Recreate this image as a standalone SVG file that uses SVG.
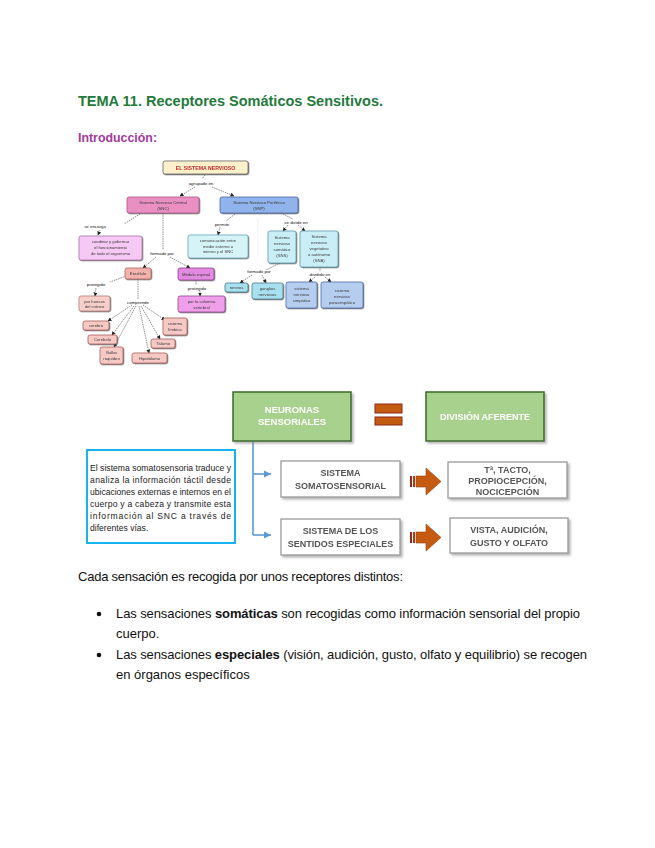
<svg xmlns="http://www.w3.org/2000/svg" width="655" height="848" viewBox="0 0 655 848">
<defs>
<style>
.t{font-family:"Liberation Sans",Arial,sans-serif;}
.m{font-family:"Liberation Sans",Arial,sans-serif;font-size:4.2px;fill:#3a3a3a;text-anchor:middle;}
.lb{font-family:"Liberation Sans",Arial,sans-serif;font-size:4.4px;fill:#111;text-anchor:middle;}
.n{stroke-width:0.7;}
.dl{stroke:#222;stroke-width:0.5;stroke-dasharray:1.5 0.8;fill:none;}
.bx{font-family:"Liberation Sans",Arial,sans-serif;font-size:9px;font-weight:bold;fill:#555;text-anchor:middle;}
.body{font-family:"Liberation Sans",Arial,sans-serif;font-size:13px;fill:#111;}
</style>
<filter id="sh" x="-10%" y="-10%" width="130%" height="140%"><feDropShadow dx="0.8" dy="0.8" stdDeviation="0.3" flood-color="#555" flood-opacity="0.8"/></filter>
<filter id="sh2" x="-10%" y="-10%" width="130%" height="140%"><feDropShadow dx="2" dy="2" stdDeviation="1.2" flood-color="#888" flood-opacity="0.6"/></filter>
<marker id="ah" markerWidth="4" markerHeight="4" refX="3.5" refY="2" orient="auto" markerUnits="userSpaceOnUse"><path d="M0,0 L4,2 L0,4 z" fill="#222"/></marker>
<marker id="ab" markerWidth="8" markerHeight="8" refX="7" refY="4" orient="auto" markerUnits="userSpaceOnUse"><path d="M0,0.5 L7,4 L0,7.5 z" fill="#5b9bd5"/></marker>
</defs>
<rect width="655" height="848" fill="#fff"/>

<g id="heading">
<text class="t" x="78" y="106" font-size="15.5" font-weight="bold" fill="#237a3b" textLength="305" lengthAdjust="spacingAndGlyphs">TEMA 11. Receptores Somáticos Sensitivos.</text>
<text class="t" x="78" y="142" font-size="13" font-weight="bold" fill="#a23a9e" textLength="79" lengthAdjust="spacingAndGlyphs">Introducción:</text>
</g>

<g id="map-connectors">
<path class="dl" d="M205,175 L202,179"/>
<path class="dl" d="M195,187 L180,196" marker-end="url(#ah)"/>
<path class="dl" d="M212,187 L234,196" marker-end="url(#ah)"/>
<path class="dl" d="M140,214 L124,224"/>
<path class="dl" d="M100,230 L98,235" marker-end="url(#ah)"/>
<path class="dl" d="M235,214 L226,221"/>
<path class="dl" d="M220,227 L218,235" marker-end="url(#ah)"/>
<path class="dl" d="M281,213 L293,219"/>
<path class="dl" d="M288,225 L283,231" marker-end="url(#ah)"/>
<path class="dl" d="M298,225 L305,231" marker-end="url(#ah)"/>
<path class="dl" d="M163,213 L163,250"/>
<path class="dl" d="M156,257 L143,268" marker-end="url(#ah)"/>
<path class="dl" d="M170,257 L190,268" marker-end="url(#ah)"/>
<path class="dl" d="M126,276 L110,282"/>
<path class="dl" d="M96,288 L95,296" marker-end="url(#ah)"/>
<path class="dl" d="M196,280 L196,285"/>
<path class="dl" d="M200,291 L200,296" marker-end="url(#ah)"/>
<path class="dl" d="M138,279 L138,299"/>
<path class="dl" d="M132,305 L108,321" marker-end="url(#ah)"/>
<path class="dl" d="M134,306 L112,335" marker-end="url(#ah)"/>
<path class="dl" d="M136,306 L114,347" marker-end="url(#ah)"/>
<path class="dl" d="M139,306 L149,353" marker-end="url(#ah)"/>
<path class="dl" d="M141,306 L160,339" marker-end="url(#ah)"/>
<path class="dl" d="M143,305 L165,320" marker-end="url(#ah)"/>
<path class="dl" d="M280,263 L266,270"/>
<path class="dl" d="M252,275 L240,283" marker-end="url(#ah)"/>
<path class="dl" d="M262,275 L266,283" marker-end="url(#ah)"/>
<path class="dl" d="M320,267 L320,271"/>
<path class="dl" d="M315,277 L309,282" marker-end="url(#ah)"/>
<path class="dl" d="M325,277 L331,282" marker-end="url(#ah)"/>
<path d="M258,218 L258,256" stroke="#e4e4e4" stroke-width="0.6"/>
</g>

<g id="map-labels">
<text class="lb" x="201" y="185">agrupado en</text>
<text class="lb" x="95" y="228">se encarga</text>
<text class="lb" x="222" y="226">permite</text>
<text class="lb" x="296" y="224">se divide en</text>
<text class="lb" x="162" y="255">formado por</text>
<text class="lb" x="96" y="286">protegido</text>
<text class="lb" x="197" y="290">protegido</text>
<text class="lb" x="138" y="304">comprende</text>
<text class="lb" x="259" y="273">formado por</text>
<text class="lb" x="320" y="276">dividido en</text>
</g>

<g id="n-sistema" filter="url(#sh)">
<rect x="163" y="161" width="85" height="13" rx="2" fill="#fdf1cc" stroke="#555" class="n"/>
<text class="t" x="205.5" y="169.6" font-size="5.2" font-weight="bold" fill="#c0282d" text-anchor="middle">EL SISTEMA NERVIOSO</text>
</g>
<g id="n-snc" filter="url(#sh)">
<rect x="127" y="197" width="72" height="16" rx="2" fill="#e98fc2" stroke="#a84f82" class="n"/>
<text class="m" x="163" y="204">Sistema Nervioso Central</text><text class="m" x="163" y="209.5">(SNC)</text>
</g>
<g id="n-snp" filter="url(#sh)">
<rect x="220" y="197" width="78" height="16" rx="2" fill="#8fb3ea" stroke="#3c5f9e" class="n"/>
<text class="m" x="259" y="204">Sistema Nervioso Periférico</text><text class="m" x="259" y="209.5">(SNP)</text>
</g>
<g id="n-coordinar" filter="url(#sh)">
<rect x="79" y="236" width="63" height="24" rx="2" fill="#f6c8f4" stroke="#a06aa0" class="n"/>
<text class="m" x="110.5" y="243">coodinar y gobernar</text><text class="m" x="110.5" y="249">el funcionamiento</text><text class="m" x="110.5" y="255">de todo el organismo</text>
</g>
<g id="n-comunicacion" filter="url(#sh)">
<rect x="188" y="235" width="60" height="23" rx="2" fill="#d6f4f8" stroke="#5a9fb0" class="n"/>
<text class="m" x="218" y="242">comunicación entre</text><text class="m" x="218" y="247.5">medio esterno o</text><text class="m" x="218" y="253">interno y el SNC</text>
</g>
<g id="n-sns" filter="url(#sh)">
<rect x="268" y="231" width="28" height="32" rx="2" fill="#c9eef5" stroke="#4a8fa0" class="n"/>
<text class="m" x="282" y="239">Sistema</text><text class="m" x="282" y="245">nervioso</text><text class="m" x="282" y="251">somático</text><text class="m" x="282" y="257">(SNS)</text>
</g>
<g id="n-sna" filter="url(#sh)">
<rect x="300" y="231" width="38" height="36" rx="2" fill="#c9eef5" stroke="#4a8fa0" class="n"/>
<text class="m" x="319" y="238">Sistema</text><text class="m" x="319" y="244">nervioso</text><text class="m" x="319" y="250">vegetativo</text><text class="m" x="319" y="256">o autónomo</text><text class="m" x="319" y="262">(SNA)</text>
</g>
<g id="n-encefalo" filter="url(#sh)">
<rect x="125" y="268" width="26" height="11" rx="2" fill="#f2b3ad" stroke="#b05c5c" class="n"/>
<text class="m" x="138" y="275">Encéfalo</text>
</g>
<g id="n-medula" filter="url(#sh)">
<rect x="178" y="268" width="36" height="12" rx="2" fill="#e38be0" stroke="#8a3a8a" class="n"/>
<text class="m" x="196" y="275.5">Médula espinal</text>
</g>
<g id="n-craneo" filter="url(#sh)">
<rect x="79" y="296" width="31" height="15" rx="2" fill="#f6cfcb" stroke="#b07070" class="n"/>
<text class="m" x="94.5" y="302.5">por huesos</text><text class="m" x="94.5" y="308">del cráneo</text>
</g>
<g id="n-columna" filter="url(#sh)">
<rect x="178" y="296" width="47" height="16" rx="2" fill="#ef9fe9" stroke="#8a3a8a" class="n"/>
<text class="m" x="201.5" y="303">por la columna</text><text class="m" x="201.5" y="308.5">vertebral</text>
</g>
<g id="n-cerebro" filter="url(#sh)">
<rect x="83" y="321" width="26" height="9" rx="2" fill="#f6c9c5" stroke="#a05050" class="n"/>
<text class="m" x="96" y="327">cerebro</text>
</g>
<g id="n-cerebelo" filter="url(#sh)">
<rect x="88" y="335" width="29" height="9" rx="2" fill="#f6c9c5" stroke="#a05050" class="n"/>
<text class="m" x="102.5" y="341">Cerebelo</text>
</g>
<g id="n-bulbo" filter="url(#sh)">
<rect x="100" y="347" width="23" height="17" rx="2" fill="#f6c9c5" stroke="#a05050" class="n"/>
<text class="m" x="111.5" y="354">Bulbo</text><text class="m" x="111.5" y="360">raquídeo</text>
</g>
<g id="n-hipotalamo" filter="url(#sh)">
<rect x="132" y="353" width="35" height="10" rx="2" fill="#f6c9c5" stroke="#a05050" class="n"/>
<text class="m" x="149.5" y="359.5">Hipotálamo</text>
</g>
<g id="n-talamo" filter="url(#sh)">
<rect x="151" y="339" width="24" height="9" rx="2" fill="#f6c9c5" stroke="#a05050" class="n"/>
<text class="m" x="163" y="345">Tálamo</text>
</g>
<g id="n-limbico" filter="url(#sh)">
<rect x="163" y="318" width="24" height="17" rx="2" fill="#f6c9c5" stroke="#a05050" class="n"/>
<text class="m" x="175" y="325">sistema</text><text class="m" x="175" y="331">límbico</text>
</g>
<g id="n-nervios" filter="url(#sh)">
<rect x="225" y="283" width="23" height="9" rx="2" fill="#a9e0f0" stroke="#3a7080" class="n"/>
<text class="m" x="236.5" y="289">nervios</text>
</g>
<g id="n-ganglios" filter="url(#sh)">
<rect x="252" y="283" width="31" height="16" rx="2" fill="#a9e0f0" stroke="#3a7080" class="n"/>
<text class="m" x="267.5" y="290">ganglios</text><text class="m" x="267.5" y="295.5">nerviosos</text>
</g>
<g id="n-simpatico" filter="url(#sh)">
<rect x="286" y="282" width="31" height="26" rx="2" fill="#b5cef0" stroke="#3c5f9e" class="n"/>
<text class="m" x="301.5" y="290">sistema</text><text class="m" x="301.5" y="296">nervioso</text><text class="m" x="301.5" y="302">simpático</text>
</g>
<g id="n-parasimpatico" filter="url(#sh)">
<rect x="321" y="282" width="42" height="26" rx="2" fill="#b5cef0" stroke="#3c5f9e" class="n"/>
<text class="m" x="342" y="292">sistema</text><text class="m" x="342" y="298">nervioso</text><text class="m" x="342" y="304">parasimpático</text>
</g>

<g id="connectors">
<path d="M253,441 L253,535" stroke="#5b9bd5" stroke-width="1.6" fill="none"/>
<path d="M253,474 L271,474" stroke="#5b9bd5" stroke-width="1.6" fill="none" marker-end="url(#ab)"/>
<path d="M253,535 L271,535" stroke="#5b9bd5" stroke-width="1.6" fill="none" marker-end="url(#ab)"/>
</g>

<g id="n-neuronas" filter="url(#sh2)">
<rect x="233" y="392" width="118" height="49" fill="#a9d18e" stroke="#3d6b2a" stroke-width="1.5"/>
<text class="t" x="292" y="413" font-size="9.5" font-weight="bold" fill="#fff" text-anchor="middle">NEURONAS</text>
<text class="t" x="292" y="425" font-size="9.5" font-weight="bold" fill="#fff" text-anchor="middle">SENSORIALES</text>
</g>
<g id="equals">
<rect x="375" y="404" width="27" height="9" fill="#c55a11" stroke="#8b2a1a" stroke-width="1"/>
<rect x="375" y="417" width="27" height="8" fill="#c55a11" stroke="#8b2a1a" stroke-width="1"/>
</g>
<g id="n-division" filter="url(#sh2)">
<rect x="426" y="392" width="118" height="49" fill="#a9d18e" stroke="#3d6b2a" stroke-width="1.5"/>
<text class="t" x="485" y="420" font-size="9" font-weight="bold" fill="#fff" text-anchor="middle">DIVISIÓN AFERENTE</text>
</g>
<g id="n-texto">
<rect x="87" y="450" width="148" height="93" fill="#fff" stroke="#16b4ef" stroke-width="2"/>
<g class="t" font-size="8.6" fill="#222">
<text x="90" y="471" textLength="141">El sistema somatosensoria traduce y</text>
<text x="90" y="483" textLength="141">analiza la información táctil desde</text>
<text x="90" y="495" textLength="141">ubicaciones externas e internos en el</text>
<text x="90" y="507" textLength="141">cuerpo y a cabeza y transmite esta</text>
<text x="90" y="519" textLength="141">información al SNC a través de</text>
<text x="90" y="531">diferentes vías.</text>
</g>
</g>
<g id="n-somatosensorial" filter="url(#sh2)">
<rect x="281" y="461" width="119" height="36" fill="#fff" stroke="#9a9a9a" stroke-width="1.3"/>
<text class="bx" x="340.5" y="476">SISTEMA</text>
<text class="bx" x="340.5" y="489">SOMATOSENSORIAL</text>
</g>
<g id="n-especiales" filter="url(#sh2)">
<rect x="281" y="519" width="119" height="36" fill="#fff" stroke="#9a9a9a" stroke-width="1.3"/>
<text class="bx" x="340.5" y="534">SISTEMA DE LOS</text>
<text class="bx" x="340.5" y="547">SENTIDOS ESPECIALES</text>
</g>
<g id="arrow1">
<rect x="410" y="476" width="2" height="11" fill="#8b2a1a"/>
<rect x="413" y="476" width="2" height="11" fill="#a33a1a"/>
<path d="M416,476 L426,476 L426,468 L441,481.5 L426,495 L426,487 L416,487 z" fill="#c55a11" stroke="#a0400f" stroke-width="0.6"/>
</g>
<g id="arrow2">
<rect x="410" y="532" width="2" height="11" fill="#8b2a1a"/>
<rect x="413" y="532" width="2" height="11" fill="#a33a1a"/>
<path d="M416,532 L426,532 L426,524 L441,537.5 L426,551 L426,543 L416,543 z" fill="#c55a11" stroke="#a0400f" stroke-width="0.6"/>
</g>
<g id="n-tacto" filter="url(#sh2)">
<rect x="448" y="462" width="119" height="36" fill="#fff" stroke="#9a9a9a" stroke-width="1.3"/>
<text class="bx" x="507.5" y="473" font-size="8.6">Tª, TACTO,</text>
<text class="bx" x="507.5" y="484" font-size="8.6">PROPIOCEPCIÓN,</text>
<text class="bx" x="507.5" y="495" font-size="8.6">NOCICEPCIÓN</text>
</g>
<g id="n-vista" filter="url(#sh2)">
<rect x="450" y="518" width="118" height="35" fill="#fff" stroke="#9a9a9a" stroke-width="1.3"/>
<text class="bx" x="509" y="533" font-size="8.6">VISTA, AUDICIÓN,</text>
<text class="bx" x="509" y="546" font-size="8.6">GUSTO Y OLFATO</text>
</g>

<g id="body-text">
<text class="body" x="78" y="581" textLength="325">Cada sensación es recogida por unos receptores distintos:</text>
<circle cx="99" cy="614" r="2.3" fill="#111"/>
<text class="body" x="116" y="618" textLength="464">Las sensaciones <tspan font-weight="bold">somáticas</tspan> son recogidas como información sensorial del propio</text>
<text class="body" x="116" y="638">cuerpo.</text>
<circle cx="99" cy="655" r="2.3" fill="#111"/>
<text class="body" x="116" y="659" textLength="471">Las sensaciones <tspan font-weight="bold">especiales</tspan> (visión, audición, gusto, olfato y equilibrio) se recogen</text>
<text class="body" x="116" y="679">en órganos específicos</text>
</g>
</svg>
